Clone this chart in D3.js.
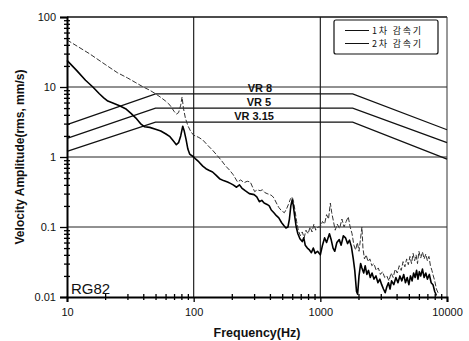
<!DOCTYPE html>
<html>
<head>
<meta charset="utf-8">
<script src="https://cdn.jsdelivr.net/npm/d3@7"></script>
<style>
body { margin: 0; background: #fff; }
.chart { width: 469px; height: 341px; }
text { font-family: "Liberation Sans", Arial, sans-serif; fill: #111; }
.kr { font-family: "Noto Sans CJK KR", "Liberation Sans", sans-serif; }
</style>
</head>
<body>
<div class="chart"></div>
<script>
// tick labels
const xTicks = [10, 100, 1000, 10000];
const yTicks = [0.01, 0.1, 1, 10, 100];
const legendNames = ['1차 감속기', '2차 감속기'];

// VR criterion curves
const vrNames = ['VR 8', 'VR 5', 'VR 3.15'];
const vrFreq = [10, 50, 1800, 10000];
const vr8 = [2.9, 8, 8, 2.45];
const vr5 = [1.85, 5, 5, 1.6];
const vr315 = [1.2, 3.15, 3.15, 0.93];

// 1차 감속기 (solid)
const s1Freq = [10,12,14,16,18,19.5,21,23,26,29,32,35,38,41,45,50,55,60,65,70,73,76,79,82,84,87,90,93,100,
  104,110,118,125,133,141,150,160,172,185,195,205,218,230,240,255,275,300,315,330,345,360,380,395,410,430,450,470,495,515,535,555,570,585,600,610,625,645,665,690,
  720,740,760,790,820,850,880,910,950,1000,1040,1080,1120,1180,1220,1260,1300,1350,1410,1460,1520,1580,1640,1700,1760,1820,1870,1930,1970,
  2020,2080,2130,2200,2260,2330,2400,2480,2560,2650,2750,2850,2950,3050,3150,3250,3350,3450,3550,3650,3800,3950,4100,4250,4400,4550,4700,4850,
  5000,5150,5300,5450,5600,5750,5900,6050,6200,6400,6600,6800,7000,7250,7500,7750,8000,8250];
const s1Vel = [24,17,12.5,10,8,7,6.3,5.9,5.4,4.9,4.2,3.6,3.0,2.7,2.65,2.5,2.35,2.15,1.95,1.65,1.5,1.6,2.0,2.75,2.4,1.8,1.3,1.1,1.0,
  0.93,0.85,0.74,0.68,0.64,0.61,0.55,0.49,0.46,0.44,0.42,0.4,0.37,0.4,0.36,0.33,0.3,0.29,0.27,0.23,0.24,0.22,0.21,0.2,0.175,0.16,0.145,0.135,0.115,0.105,0.097,0.1,0.13,0.2,0.245,0.21,0.15,0.1,0.08,0.068,
  0.062,0.07,0.055,0.05,0.047,0.043,0.05,0.042,0.045,0.04,0.055,0.07,0.06,0.08,0.065,0.05,0.045,0.06,0.066,0.055,0.075,0.07,0.058,0.065,0.052,0.035,0.024,0.012,0.011,
  0.02,0.03,0.026,0.022,0.028,0.021,0.024,0.019,0.022,0.018,0.02,0.016,0.018,0.015,0.013,0.0115,0.014,0.016,0.013,0.017,0.015,0.019,0.016,0.02,0.017,0.021,0.016,0.019,
  0.015,0.02,0.017,0.022,0.019,0.024,0.018,0.023,0.02,0.025,0.019,0.022,0.018,0.021,0.016,0.015,0.012,0.0105];

// 2차 감속기 (thin, broken)
const s2Freq = [10,15,20,25,30,35,40,45,50,55,60,65,70,73,76,79,81,83,86,90,95,100,110,118,130,141,152,165,178,192,205,222,235,250,265,280,292,303,318,335,350,365,380,400,415,430,450,470,495,520,540,560,580,600,615,630,650,670,695,
  720,745,770,800,830,860,890,920,960,1000,1040,1080,1120,1160,1200,1230,1270,1310,1360,1420,1480,1540,1600,1660,1720,1780,1840,1900,1960,2020,2080,2130,2170,2230,2300,2380,2460,2550,2650,2760,2870,2980,
  3100,3220,3350,3480,3620,3760,3900,4050,4200,4350,4500,4650,4800,4950,5100,5250,5400,5550,5700,5850,6000,6200,6400,6600,6800,7000,7200,7400,7600,7800,8000,8250,8500];
const s2Vel = [47,30,21,16,13.5,11.5,10,9,8,7.1,6.3,5.5,4.5,4.1,4.3,5.5,7.2,5,3.6,2.8,2.3,2.05,1.9,1.75,1.45,1.25,1.07,0.9,0.75,0.65,0.56,0.44,0.47,0.43,0.45,0.44,0.37,0.32,0.34,0.33,0.34,0.31,0.3,0.29,0.28,0.26,0.22,0.19,0.17,0.16,0.18,0.21,0.25,0.27,0.23,0.175,0.12,0.09,0.075,
  0.085,0.07,0.09,0.08,0.1,0.085,0.11,0.09,0.1,0.1,0.12,0.11,0.15,0.13,0.22,0.16,0.12,0.09,0.11,0.095,0.13,0.1,0.12,0.14,0.1,0.08,0.055,0.047,0.06,0.045,0.07,0.1,0.05,0.035,0.04,0.032,0.035,0.028,0.03,0.024,0.026,0.021,
  0.023,0.019,0.02,0.017,0.022,0.019,0.025,0.022,0.028,0.024,0.032,0.027,0.035,0.029,0.038,0.03,0.042,0.033,0.04,0.03,0.045,0.036,0.044,0.035,0.041,0.033,0.038,0.028,0.024,0.02,0.017,0.013,0.0115];

const width = d3.select('.chart').node().clientWidth;
const height = d3.select('.chart').node().clientHeight;

let svg = d3.select('.chart')
    .append('svg')
    .attr('width', width)
    .attr('height', height);

const plotLeft = 67, plotRight = 447, plotTop = 17, plotBottom = 297;

const x = d3.scaleLog().domain([10, 10000]).range([plotLeft, plotRight]);
const y = d3.scaleLog().domain([0.01, 100]).range([plotBottom, plotTop]);

// minor tick values for each decade
const xMinor = [], yMinor = [];
[10, 100, 1000].forEach(d => { for (let k = 2; k <= 9; k++) xMinor.push(d * k); });
[0.01, 0.1, 1, 10].forEach(d => { for (let k = 2; k <= 9; k++) yMinor.push(+(d * k).toPrecision(3)); });

// grid lines
svg.selectAll('.hgrid').data(yTicks.slice(1, -1)).enter().append('line')
    .attr('x1', plotLeft).attr('x2', plotRight)
    .attr('y1', d => y(d)).attr('y2', d => y(d))
    .style('stroke', '#222').style('stroke-width', 1);
svg.selectAll('.vgrid').data(xTicks.slice(1, -1)).enter().append('line')
    .attr('x1', d => x(d)).attr('x2', d => x(d))
    .attr('y1', plotTop).attr('y2', plotBottom)
    .style('stroke', '#222').style('stroke-width', 1.2);

// frame: top and right
svg.append('line').attr('x1', plotLeft).attr('x2', plotRight).attr('y1', plotTop).attr('y2', plotTop)
    .style('stroke', '#111').style('stroke-width', 1.5);
svg.append('line').attr('x1', plotRight).attr('x2', plotRight).attr('y1', plotTop).attr('y2', plotBottom)
    .style('stroke', '#333').style('stroke-width', 1);

// VR curves
const line = d3.line().x(d => x(d[0])).y(d => y(d[1]));
[vr8, vr5, vr315].forEach(v => {
    svg.append('path')
        .attr('d', line(vrFreq.map((f, i) => [f, v[i]])))
        .style('fill', 'none').style('stroke', '#111').style('stroke-width', 1.3);
});
const vrLabelY = [92, 106, 120];
const vrLabelX = [260, 259, 254];
vrNames.forEach((n, i) => {
    svg.append('text').attr('x', vrLabelX[i]).attr('y', vrLabelY[i])
        .attr('text-anchor', 'middle')
        .style('font-size', '11px').style('font-weight', 'bold')
        .text(n);
});

// data series
svg.append('path')
    .attr('d', line(s2Freq.map((f, i) => [f, s2Vel[i]])))
    .style('fill', 'none').style('stroke', '#333').style('stroke-width', 1)
    .style('stroke-dasharray', '5,2');
svg.append('path')
    .attr('d', line(s1Freq.map((f, i) => [f, s1Vel[i]])))
    .style('fill', 'none').style('stroke', '#000').style('stroke-width', 1.6)
    .style('stroke-linejoin', 'round');

// axes
const xAxis = svg.append('g').attr('transform', `translate(0,${plotBottom})`)
    .call(d3.axisBottom(x).tickValues(xTicks).tickFormat(d => d).tickSize(5).tickPadding(6));
svg.append('g').attr('transform', `translate(0,${plotBottom - 3})`)
    .call(d3.axisBottom(x).tickValues(xMinor).tickFormat('').tickSizeOuter(0).tickSizeInner(6))
    .call(g => g.select('.domain').remove());
const yAxis = svg.append('g').attr('transform', `translate(${plotLeft},0)`)
    .call(d3.axisLeft(y).tickValues(yTicks).tickFormat(d => d).tickSize(7).tickPadding(4));
svg.append('g').attr('transform', `translate(${plotLeft + 3},0)`)
    .call(d3.axisLeft(y).tickValues(yMinor).tickFormat('').tickSizeOuter(0).tickSizeInner(6))
    .call(g => g.select('.domain').remove());

[xAxis, yAxis].forEach(g => {
    g.select('.domain').style('stroke', '#000').style('stroke-width', 2);
    g.selectAll('text').style('font-size', '11px').style('font-family', '"Liberation Sans", Arial, sans-serif').attr('fill', '#111');
});
svg.selectAll('.tick line').style('stroke', '#000').style('stroke-width', 1.3);

// axis titles
svg.append('text').attr('x', 257).attr('y', 337)
    .attr('text-anchor', 'middle')
    .style('font-size', '12.5px').style('font-weight', 'bold')
    .text('Frequency(Hz)');
svg.append('text')
    .attr('transform', 'translate(24,157) rotate(-90)')
    .attr('text-anchor', 'middle')
    .style('font-size', '12px').style('font-weight', 'bold')
    .text('Velocity Amplitude(rms, mm/s)');

// sample label
svg.append('text').attr('x', 71).attr('y', 294)
    .style('font-size', '15px')
    .text('RG82');

// legend
svg.append('rect').attr('x', 334).attr('y', 20).attr('width', 104).attr('height', 34)
    .attr('rx', 2)
    .style('fill', '#fff').style('stroke', '#111').style('stroke-width', 1.2);
legendNames.forEach((n, i) => {
    const ly = 30.5 + i * 13;
    svg.append('line').attr('x1', 345).attr('x2', 369).attr('y1', ly).attr('y2', ly)
        .style('stroke', '#111').style('stroke-width', 1);
    svg.append('text').attr('class', 'kr').attr('x', 372).attr('y', ly + 3.2)
        .style('font-size', '9px').style('letter-spacing', '1.8px')
        .text(n);
});
</script>
</body>
</html>
